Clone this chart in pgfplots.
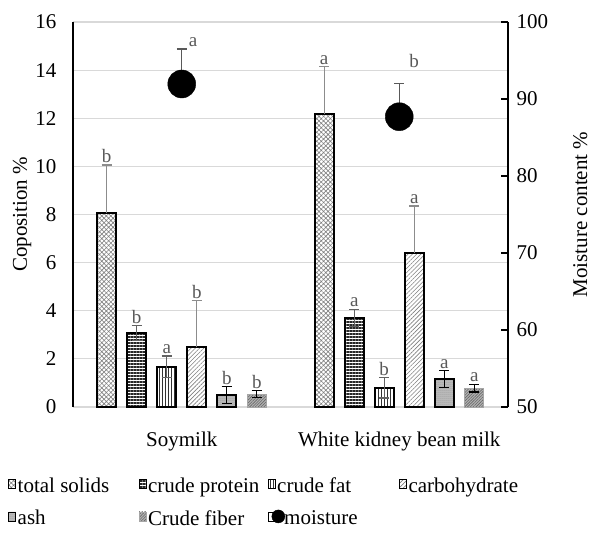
\documentclass[border=0pt]{standalone}
\usepackage{fontspec}
\setmainfont{Liberation Serif}
\usepackage{pgfplots}
\pgfplotsset{compat=1.18}
\usetikzlibrary{patterns.meta}
\newcommand\fs{\fontsize{21}{25}\selectfont}
\newcommand\fsl{\fontsize{19}{22}\selectfont}
\definecolor{errgray}{HTML}{8C8C8C}
\definecolor{lblgray}{HTML}{595959}
\definecolor{gridc}{HTML}{D9D9D9}
\pgfplotsset{
  tsol/.style={draw=black, line width=1.8pt, preaction={fill=white}, pattern={Hatch[angle=45,distance=3.2pt,line width=0.6pt]}, pattern color=gray},
  cprot/.style={draw=black, line width=1.8pt, preaction={fill=white}, pattern={Lines[angle=0,distance=3pt,line width=1.1pt]}, pattern color=black!85},
  cfat/.style={draw=black, line width=1.8pt, preaction={fill=white}, pattern={Lines[angle=90,distance=3pt,line width=0.7pt]}, pattern color=black!80},
  carb/.style={draw=black, line width=1.8pt, preaction={fill=white}, pattern={Lines[angle=45,distance=3pt,line width=0.6pt]}, pattern color=gray},
  ash/.style={draw=black, line width=1.8pt, preaction={fill=gray!50}, pattern={Dots[distance=2pt,radius=0.5pt]}, pattern color=gray!95!black},
  fiber/.style={draw=gray!70, line width=0.5pt, preaction={fill=gray!60}, pattern={Lines[angle=45,distance=2pt,line width=0.6pt]}, pattern color=black!60},
  errp/.style={error bars/.cd, y dir=plus, y explicit, error bar style={errgray, line width=1.2pt}, error mark options={rotate=90, mark size=5pt, errgray, line width=1.2pt}},
  errbg/.style={error bars/.cd, y dir=both, y explicit, error bar style={errgray!70!black, line width=1.2pt}, error mark options={rotate=90, mark size=5pt, errgray!70!black, line width=1.2pt}},
  errbk/.style={error bars/.cd, y dir=both, y explicit, error bar style={black, line width=1.2pt}, error mark options={rotate=90, mark size=5pt, black, line width=1.2pt}},
}
\begin{document}
\begin{tikzpicture}[font=\fs]
\begin{axis}[
  scale only axis, width=435pt, height=385pt,
  xmin=-0.5, xmax=1.5, ymin=0, ymax=16,
  ybar=11pt, bar width=19pt,
  xtick={0,1}, xticklabels={Soymilk, White kidney bean milk},
  ytick={0,2,...,16},
  major tick length=0pt,
  axis x line*=bottom, axis y line*=left,
  x axis line style={draw=gridc, line width=1.3pt, -},
  y axis line style={draw=black, line width=1.3pt, -},
  ymajorgrids, grid style={gridc, line width=1.2pt},
  tick label style={font=\fs},
  /pgf/number format/assume math mode=true,
  yticklabel style={xshift=-13pt},
  xticklabel style={yshift=-21pt},
  ylabel={Coposition \%},
  ylabel style={font=\fs, at={(axis description cs:-0.117,0.5)}, anchor=center},
  clip=false,
]
\addplot[tsol, errp] coordinates {(0,8.06) +- (0,2.0) (1,12.17) +- (0,1.97)};
\addplot[cprot, errbg] coordinates {(0,3.07) +- (0,0.31) (1,3.71) +- (0,0.35)};
\addplot[cfat, errbg] coordinates {(0,1.67) +- (0,0.45) (1,0.80) +- (0,0.43)};
\addplot[carb, errp] coordinates {(0,2.48) +- (0,1.94) (1,6.39) +- (0,1.96)};
\addplot[ash, errbk] coordinates {(0,0.50) +- (0,0.34) (1,1.16) +- (0,0.35)};
\addplot[fiber, errbk] coordinates {(0,0.54) +- (0,0.14) (1,0.78) +- (0,0.16)};
\end{axis}
\begin{axis}[
  scale only axis, width=435pt, height=385pt,
  xmin=-0.5, xmax=1.5, ymin=50, ymax=100,
  ytick={50,60,...,100},
  axis y line*=right, axis x line=none,
  y axis line style={draw=black, line width=1.3pt, -},
  tick align=inside, major tick length=7pt,
  tick style={black, line width=1.3pt},
  tick label style={font=\fs},
  /pgf/number format/assume math mode=true,
  yticklabel style={xshift=5pt},
  ylabel={Moisture content \%},
  ylabel style={font=\fs, at={(axis description cs:1.166,0.5)}, anchor=center},
  clip=false,
]
\addplot[only marks, mark=*, mark size=14pt, black, error bars/.cd, y dir=plus, y explicit, error bar style={lblgray, line width=1.2pt}, error mark options={rotate=90, mark size=5pt, lblgray, line width=1.2pt}]
  coordinates {(0,91.95) +- (0,4.55) (1,87.7) +- (0,4.3)};
\end{axis}
\begin{axis}[
  scale only axis, width=435pt, height=385pt,
  xmin=-0.5, xmax=1.5, ymin=0, ymax=16,
  hide axis, clip=false,
  legend columns=4, legend cell align=left,
  legend image code/.code={\draw[#1] (0pt,-2.5pt) rectangle (7pt,6.5pt);},
  legend style={draw=none, fill=none, font=\fs, at={(-0.149,-0.18)}, anchor=north west,
    inner sep=0pt, row sep=13pt, nodes={inner sep=1.5pt},
    /tikz/column 2/.style={column sep=28pt},
    /tikz/column 4/.style={column sep=7pt},
    /tikz/column 6/.style={column sep=40pt}},
]
\addlegendimage{tsol, line width=0.8pt}
\addlegendentry{total solids}
\addlegendimage{cprot, line width=0.8pt}
\addlegendentry{crude protein}
\addlegendimage{cfat, line width=0.8pt}
\addlegendentry{crude fat}
\addlegendimage{carb, line width=0.8pt}
\addlegendentry{carbohydrate}
\addlegendimage{ash, line width=0.8pt}
\addlegendentry{ash}
\addlegendimage{fiber, draw=none}
\addlegendentry{Crude fiber}
\addlegendimage{legend image code/.code={\path (0pt,-2.5pt) rectangle (7pt,6.5pt); \fill[black, overlay] (10pt,2pt) circle (6.5pt);}}
\addlegendentry{\hspace{7pt}moisture}
\addplot[draw=none, mark=none, forget plot, nodes near coords, point meta=explicit symbolic,
  nodes near coords style={font=\fsl, text=lblgray, anchor=south, inner sep=2pt}]
  table[meta=l] {
x y l
-0.345 10.06 b
-0.207 3.38 b
-0.069 2.12 a
0.069 4.42 b
0.207 0.84 b
0.345 0.68 b
0.655 14.14 a
0.793 4.06 a
0.931 1.23 b
1.069 8.35 a
1.207 1.51 a
1.345 0.94 a
0.052 14.88 a
1.068 14.0 b
};
\path (rel axis cs:0,0) ++(-73pt,-128pt) rectangle ++(598pt,535pt);
\end{axis}
\end{tikzpicture}
\end{document}
